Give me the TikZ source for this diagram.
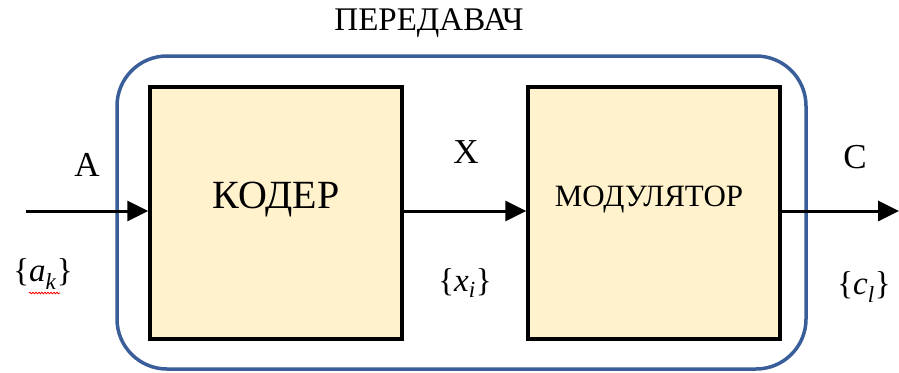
\documentclass[tikz,border=0pt]{standalone}
\usepackage{fontspec}
\setmainfont{Liberation Serif}
\usetikzlibrary{arrows.meta,decorations.pathmorphing}
\definecolor{boxfill}{HTML}{FFF2CC}
\definecolor{frameblue}{HTML}{3A5E9A}
\tikzset{
  block/.style={draw=black,line width=3.5pt,fill=boxfill,inner sep=0pt},
  sig/.style={line width=3pt,-{Triangle[length=21pt,width=20pt]}},
  lbl/.style={inner sep=0pt,font=\fontsize{35}{40}\selectfont},
  seq/.style={inner sep=0pt,font=\fontsize{33}{38}\selectfont}
}
\begin{document}
\begin{tikzpicture}[x=1pt,y=-1pt]
\useasboundingbox (0,0) rectangle (899,372);
% outer frame
\draw[frameblue,line width=3.5pt,rounded corners=50pt] (117,56) rectangle (806,369);
\node[inner sep=0pt,font=\fontsize{33}{38}\selectfont] (title) at (429,23) {ПЕРЕДАВАЧ};
% blocks
\node[block,minimum width=252pt,minimum height=252pt] (coder) at (276,213) {};
\node[inner sep=0pt,font=\fontsize{40}{46}\selectfont] (coderlbl) at (276,200) {КОДЕР};
\node[block,minimum width=252pt,minimum height=252pt] (mod) at (654,213) {};
\node[inner sep=0pt,font=\fontsize{31}{36}\selectfont] (modlbl) at (649,200) {МОДУЛЯТОР};
% connectors
\coordinate (in) at (26,211);
\coordinate (out) at (899,211);
\draw[sig] (in) -- (in -| coder.west);
\draw[sig] (coder.east |- in) -- (mod.west |- in);
\draw[sig] (mod.east |- in) -- (out);
% labels
\node[lbl] (A) at (87,165) {A};
\node[lbl] (X) at (466,152) {X};
\node[lbl] (C) at (855,157) {C};
\node[seq] (ak) at (43,274) {\{\textit{a}\textsubscript{\textit{k}}\}};
\node[seq] (xi) at (465,283) {\{\textit{x}\textsubscript{\textit{i}}\}};
\node[seq] (cl) at (864,287) {\{\textit{c}\textsubscript{\textit{l}}\}};
\coordinate (sq1) at (29,293);
\coordinate (sq2) at (60,293);
\draw[red,line width=0.8pt,decorate,decoration={snake,amplitude=0.8pt,segment length=3pt}] (sq1) -- (sq2);
\end{tikzpicture}
\end{document}
